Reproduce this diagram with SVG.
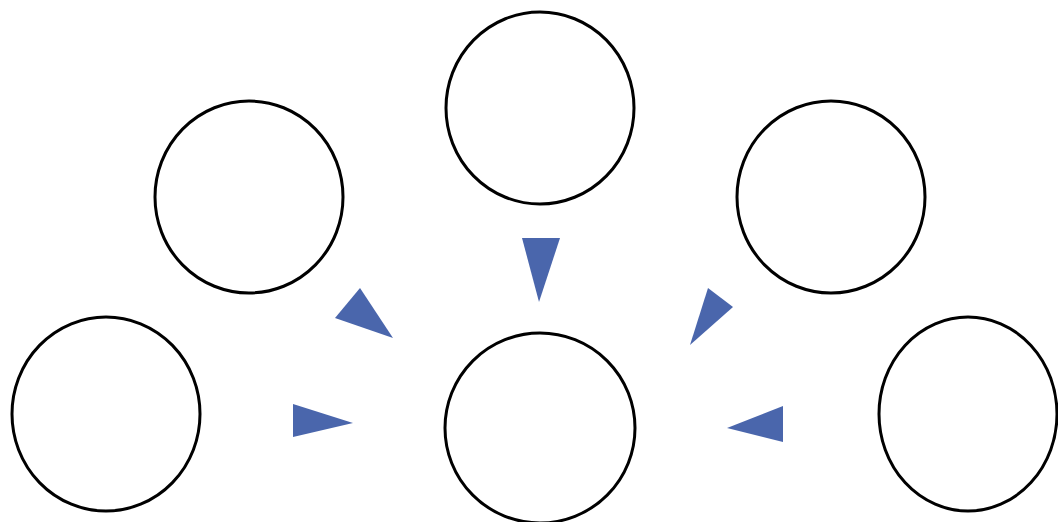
<svg xmlns="http://www.w3.org/2000/svg" width="1058" height="522" viewBox="0 0 1058 522">
<style>
.node{fill:#fff;stroke:#000;stroke-width:3}
.arrow{fill:#4A66AC;stroke:none}
</style>
<rect width="1058" height="522" fill="#fff"/>
<g id="node-top"><ellipse class="node" cx="540" cy="108" rx="94" ry="96"/></g>
<g id="node-upper-left"><ellipse class="node" cx="249" cy="197" rx="94" ry="96"/></g>
<g id="node-upper-right"><ellipse class="node" cx="831" cy="197" rx="94" ry="96"/></g>
<g id="node-lower-left"><ellipse class="node" cx="106" cy="414" rx="94" ry="97"/></g>
<g id="node-lower-right"><ellipse class="node" cx="968" cy="414" rx="89" ry="97"/></g>
<g id="node-center"><ellipse class="node" cx="540" cy="428" rx="95" ry="95"/></g>
<g id="connectors">
<polygon class="arrow" points="522,238 560,238 539,302"/>
<polygon class="arrow" points="360,288 335,318 393,338"/>
<polygon class="arrow" points="708,288 733,307 690,345"/>
<polygon class="arrow" points="293,404 293,437 353,423"/>
<polygon class="arrow" points="783,406 783,442 727,428"/>
</g>
</svg>
